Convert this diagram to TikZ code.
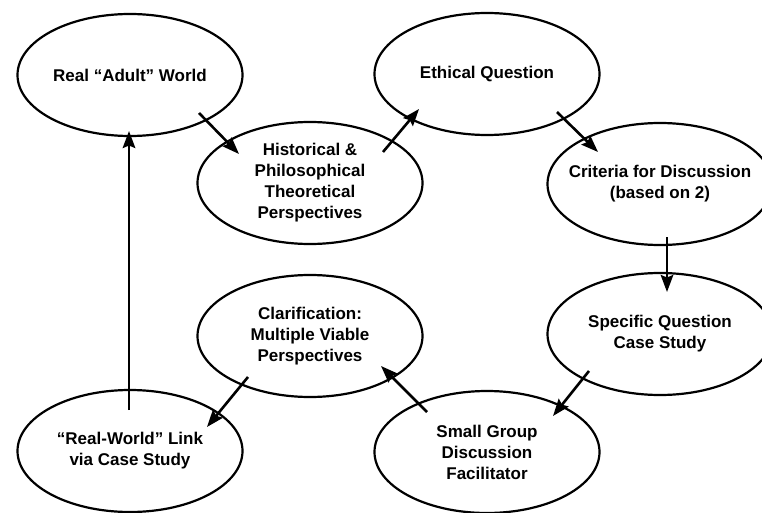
\documentclass[tikz,border=0pt]{standalone}
\usepackage{fontspec}
\setmainfont{Liberation Sans}
\usetikzlibrary{shapes.geometric,arrows.meta}

\tikzset{
  bubble/.style={draw, ellipse, line width=2.2pt, minimum width=225pt,
    minimum height=122pt, inner sep=0pt},
  caption/.style={align=center, inner sep=0pt,
    font=\bfseries\fontsize{17pt}{21pt}\selectfont},
  arr/.style={line width=2.6pt,
    -{Stealth[length=17pt,width=12.5pt,inset=2.5pt]}}
}

\begin{document}
\begin{tikzpicture}[x=1pt,y=-1pt]
  \useasboundingbox (0,0) rectangle (762,513);
  \clip (0,0) rectangle (762,513);

  % ellipses
  \node[bubble] (A) at (130,75)  {};
  \node[bubble] (B) at (310,183) {};
  \node[bubble] (C) at (487,74)  {};
  \node[bubble] (D) at (660,184) {};
  \node[bubble] (E) at (660,334) {};
  \node[bubble] (F) at (487,452) {};
  \node[bubble] (G) at (310,336) {};
  \node[bubble] (H) at (130,451) {};

  % labels
  \node[caption] (At) at (A) {Real “Adult” World};
  \node[caption] (Bt) at (B) {Historical \&\\Philosophical\\Theoretical\\Perspectives};
  \node[caption] (Ct) at (C) {Ethical Question};
  \node[caption] (Dt) at (D) {Criteria for Discussion\\(based on 2)};
  \node[caption] (Et) at (E) {Specific Question\\Case Study};
  \node[caption] (Ft) at (F) {Small Group\\Discussion\\Facilitator};
  \node[caption] (Gt) at (G) {Clarification:\\Multiple Viable\\Perspectives};
  \node[caption] (Ht) at (H) {“Real-World” Link\\via Case Study};

  % connectors
  \draw[arr] ([shift={(69,38)}]A.center)   -- ([shift={(-71,-29)}]B.center);
  \draw[arr] ([shift={(73,-31)}]B.center)  -- ([shift={(-68,35)}]C.center);
  \draw[arr] ([shift={(70,38)}]C.center)   -- ([shift={(-62,-32)}]D.center);
  \draw[arr] ([shift={(7,53)}]D.center)    -- ([shift={(7,-42)}]E.center);
  \draw[arr] ([shift={(-71,37)}]E.center)  -- ([shift={(66,-36)}]F.center);
  \draw[arr] ([shift={(-60,-40)}]F.center) -- ([shift={(71,30)}]G.center);
  \draw[arr] ([shift={(-62,41)}]G.center)  -- ([shift={(77,-24)}]H.center);
  \draw[arr] ([shift={(-1,-41)}]H.center)  -- ([shift={(-1,56)}]A.center);
\end{tikzpicture}
\end{document}
